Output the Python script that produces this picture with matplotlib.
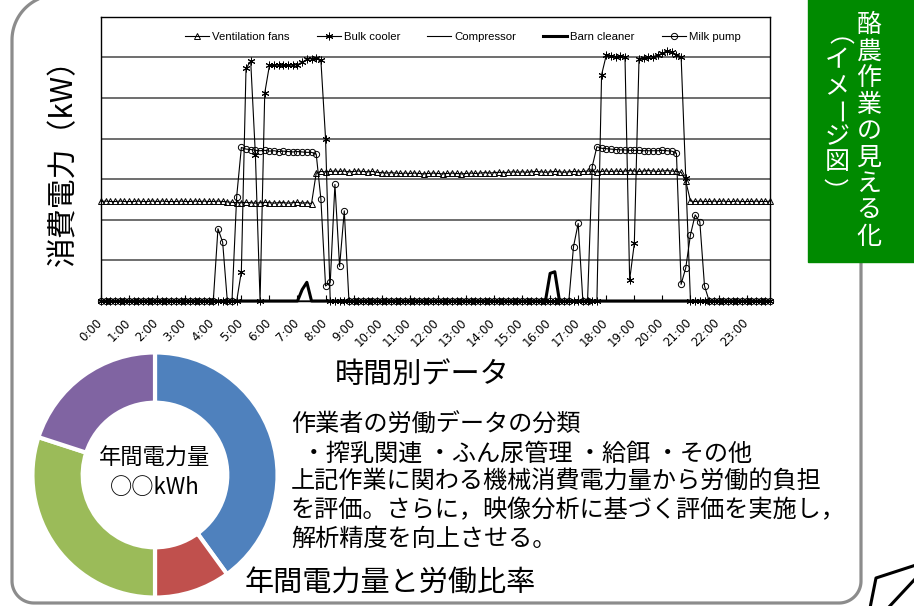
import numpy as np
import matplotlib
matplotlib.use('Agg')
import matplotlib.pyplot as plt
import matplotlib.transforms as mtransforms
from matplotlib.patches import Rectangle

plt.rcParams['font.family'] = ['Noto Sans CJK JP', 'DejaVu Sans']

# 10 minute readings (kW), one row per hour
fans = [
    2.45, 2.46, 2.45, 2.45, 2.46, 2.45,
    2.45, 2.45, 2.46, 2.45, 2.45, 2.46,
    2.45, 2.46, 2.45, 2.45, 2.45, 2.46,
    2.45, 2.45, 2.46, 2.45, 2.46, 2.45,
    2.45, 2.46, 2.45, 2.44, 2.43, 2.42,
    2.42, 2.43, 2.42, 2.41, 2.42, 2.43,
    2.42, 2.41, 2.42, 2.42, 2.41, 2.42,
    2.43, 2.41, 2.42, 2.40, 3.15, 3.19,
    3.18, 3.19, 3.20, 3.19, 3.20, 3.18,
    3.19, 3.20, 3.19, 3.18, 3.19, 3.17,
    3.16, 3.15, 3.16, 3.15, 3.14, 3.15,
    3.14, 3.15, 3.14, 3.13, 3.14, 3.15,
    3.14, 3.13, 3.14, 3.15, 3.14, 3.13,
    3.14, 3.15, 3.14, 3.15, 3.16, 3.15,
    3.16, 3.17, 3.16, 3.17, 3.18, 3.17,
    3.18, 3.17, 3.18, 3.19, 3.18, 3.17,
    3.18, 3.19, 3.18, 3.17, 3.18, 3.19,
    3.18, 3.19, 3.20, 3.19, 3.18, 3.19,
    3.20, 3.19, 3.20, 3.19, 3.20, 3.21,
    3.20, 3.19, 3.20, 3.21, 3.20, 3.19,
    3.20, 3.21, 3.20, 3.19, 3.17, 2.95,
    2.46, 2.45, 2.46, 2.45, 2.45, 2.46,
    2.45, 2.46, 2.45, 2.45, 2.46, 2.45,
    2.45, 2.45, 2.46, 2.45, 2.45, 2.46,
]

cooler = [
    0, 0, 0, 0, 0, 0,
    0, 0, 0, 0, 0, 0,
    0, 0, 0, 0, 0, 0,
    0, 0, 0, 0, 0, 0,
    0, 0, 0, 0, 0, 0,
    0.72, 5.73, 5.90, 3.60, 0, 5.12,
    5.80, 5.80, 5.81, 5.80, 5.80, 5.81,
    5.82, 5.88, 5.95, 5.97, 5.98, 5.93,
    4.00, 0, 0, 0, 0, 0,
    0, 0, 0, 0, 0, 0,
    0, 0, 0, 0, 0, 0,
    0, 0, 0, 0, 0, 0,
    0, 0, 0, 0, 0, 0,
    0, 0, 0, 0, 0, 0,
    0, 0, 0, 0, 0, 0,
    0, 0, 0, 0, 0, 0,
    0, 0, 0, 0, 0, 0,
    0, 0, 0, 0, 0, 5.57,
    6.05, 6.03, 6.02, 6.03, 6.02, 0.52,
    1.42, 5.95, 5.98, 6.00, 6.02, 6.05,
    6.10, 6.15, 6.12, 6.05, 6.02, 3.02,
    0, 0, 0, 0, 0, 0,
    0, 0, 0, 0, 0, 0,
    0, 0, 0, 0, 0, 0,
]

compressor = [0] * 144

cleaner = [
    0, 0, 0, 0, 0, 0,
    0, 0, 0, 0, 0, 0,
    0, 0, 0, 0, 0, 0,
    0, 0, 0, 0, 0, 0,
    0, 0, 0, 0, 0, 0,
    0, 0, 0, 0, 0, 0,
    0, 0, 0, 0, 0, 0,
    0, 0.28, 0.46, 0, 0, 0,
    0, 0, 0, 0, 0, 0,
    0, 0, 0, 0, 0, 0,
    0, 0, 0, 0, 0, 0,
    0, 0, 0, 0, 0, 0,
    0, 0, 0, 0, 0, 0,
    0, 0, 0, 0, 0, 0,
    0, 0, 0, 0, 0, 0,
    0, 0, 0, 0, 0, 0,
    0.68, 0.72, 0, 0, 0, 0,
    0, 0, 0, 0, 0, 0,
    0, 0, 0, 0, 0, 0,
    0, 0, 0, 0, 0, 0,
    0, 0, 0, 0, 0, 0,
    0, 0, 0, 0, 0, 0,
    0, 0, 0, 0, 0, 0,
    0, 0, 0, 0, 0, 0,
]

pump = [
    0, 0, 0, 0, 0, 0,
    0, 0, 0, 0, 0, 0,
    0, 0, 0, 0, 0, 0,
    0, 0, 0, 0, 0, 0,
    0, 1.78, 1.45, 0, 0, 2.57,
    3.78, 3.74, 3.73, 3.71, 3.70, 3.71,
    3.69, 3.70, 3.68, 3.69, 3.68, 3.67,
    3.68, 3.67, 3.66, 3.66, 3.62, 2.51,
    0.37, 0.46, 2.87, 0.85, 2.22, 0,
    0, 0, 0, 0, 0, 0,
    0, 0, 0, 0, 0, 0,
    0, 0, 0, 0, 0, 0,
    0, 0, 0, 0, 0, 0,
    0, 0, 0, 0, 0, 0,
    0, 0, 0, 0, 0, 0,
    0, 0, 0, 0, 0, 0,
    0, 0, 0, 0, 0, 1.34,
    1.91, 0, 0, 3.31, 3.80, 3.76,
    3.75, 3.74, 3.73, 3.72, 3.72, 3.71,
    3.71, 3.71, 3.70, 3.70, 3.70, 3.70,
    3.71, 3.70, 3.69, 3.64, 0.41, 0.82,
    1.63, 2.12, 1.95, 0.37, 0, 0,
    0, 0, 0, 0, 0, 0,
    0, 0, 0, 0, 0, 0,
]

hour_labels = ['0:00', '1:00', '2:00', '3:00', '4:00', '5:00', '6:00', '7:00',
               '8:00', '9:00', '10:00', '11:00', '12:00', '13:00', '14:00', '15:00',
               '16:00', '17:00', '18:00', '19:00', '20:00', '21:00', '22:00', '23:00']

# donut: share of annual power by work type
shares = [40, 10, 30, 20]
share_colors = ['#4F81BD', '#C0504D', '#9BBB59', '#8064A2']

body_lines = [
    '作業者の労働データの分類',
    '  ・搾乳関連 ・ふん尿管理 ・給餌 ・その他',
    '上記作業に関わる機械消費電力量から労働的負担',
    'を評価。さらに，映像分析に基づく評価を実施し，',
    '解析精度を向上させる。',
]
side_title = '酪農作業の見える化'
side_note = '（イメージ図）'

fig = plt.figure(figsize=(9.14, 6.06), dpi=100)

# background layer in pixel coordinates
bg = fig.add_axes([0, 0, 1, 1])
bg.set_xlim(0, 914)
bg.set_ylim(606, 0)
bg.axis('off')

# rounded frame (bigger radius top left)
def arc(cx, cy, r, a0, a1):
    a = np.radians(np.linspace(a0, a1, 30))
    return cx + r * np.cos(a), cy - r * np.sin(a)

L, R, T, B = 12, 861, -5, 603
r1, r2 = 45, 22
xs, ys = [], []
for cx, cy, r, a0, a1 in [(L + r1, T + r1, r1, 90, 180), (L + r2, B - r2, r2, 180, 270),
                          (R - r2, B - r2, r2, 270, 360), (R - r2, T + r2, r2, 0, 90)]:
    ax_, ay_ = arc(cx, cy, r, a0, a1)
    xs += list(ax_)
    ys += list(ay_)
xs.append(xs[0])
ys.append(ys[0])
bg.plot(xs, ys, color='#8C8C8C', lw=2.3, zorder=1, solid_capstyle='round')

bg.add_patch(Rectangle((808, -1), 107, 263, color='#008A00', zorder=3))
rot_chars = '（）ー'


def vchar(x, y, ch):
    if ch in rot_chars:
        bg.text(x, y, ch, color='white', fontsize=18, ha='center', va='center',
                rotation=-90, rotation_mode='anchor', zorder=4)
    else:
        bg.text(x, y, ch, color='white', fontsize=18, ha='center', va='center', zorder=4)


for k, ch in enumerate(side_title):
    vchar(869, 25 + 26.5 * k, ch)
# rotated brackets are drawn off their anchor, so their anchors are nudged
note_pos = [(822, 48), (837, 60), (837, 86), (837, 112), (837, 137), (837, 162), (832, 190)]
for ch, (xc, yc) in zip(side_note, note_pos):
    vchar(xc, yc, ch)

bg.plot([870, 876, 916], [608, 578, 565], color='black', lw=2.2, zorder=2)
bg.plot([888, 916], [608, 578], color='black', lw=2.2, zorder=2)

for k, line in enumerate(body_lines):
    bg.text(291, 425 + 28.4 * k, line, fontsize=17.4, ha='left', va='center')
bg.text(245, 583, '年間電力量と労働比率', fontsize=21, ha='left', va='center')

# line chart
ax = fig.add_axes([101 / 914, 1 - 301 / 606, 669 / 914, 284.3 / 606])
t = np.arange(len(fans)) / 6.0
common = dict(color='black', lw=0.8, clip_on=False)
ax.plot(t, fans, marker='^', ms=4.6, mfc='none', mew=0.7, label='Ventilation fans', **common)
ax.plot(t, cooler, marker=(6, 2, 0), ms=5.5, mew=0.7, label='Bulk cooler', **common)
ax.plot(t, compressor, label='Compressor', **common)
ax.plot(t, cleaner, color='black', lw=2.2, label='Barn cleaner', clip_on=False)
ax.plot(t, pump, marker='o', ms=4.5, mfc='none', mew=0.7, label='Milk pump', **common)

ax.set_xlim(0, t[-1])
ax.set_ylim(0, 7)
ax.set_yticks(range(8))
ax.tick_params(axis='y', length=0, labelleft=False)
ax.grid(axis='y', color='#555555', lw=1.2)
ax.set_axisbelow(True)
for s in ax.spines.values():
    s.set_color('black')
    s.set_linewidth(1.0)

ax.set_xticks(range(24))
ax.set_xticklabels(hour_labels, rotation=45, ha='right', fontsize=8.5, family='DejaVu Sans')
ax.tick_params(axis='x', direction='in', length=4, pad=11)
shift = mtransforms.ScaledTranslation(4 / 100, 0, fig.dpi_scale_trans)
for lab in ax.get_xticklabels():
    lab.set_transform(lab.get_transform() + shift)

ax.set_ylabel('消費電力（kW）', fontsize=21.5, va='center')
ax.yaxis.set_label_coords(-0.0553, 0.513)
ax.set_xlabel('時間別データ', fontsize=21, va='center')
ax.xaxis.set_label_coords(0.48, -0.26)

ax.legend(loc='center', bbox_to_anchor=(0.541, 0.928), ncol=5, frameon=False,
          prop={'family': 'Liberation Sans', 'size': 8.2}, handlelength=2.1,
          handletextpad=0.25, columnspacing=2.4, numpoints=1)

# donut
ax2 = fig.add_axes([30 / 914, 1 - 600 / 606, 250 / 914, 250 / 606])
ax2.pie(shares, colors=share_colors, startangle=90, counterclock=False,
        wedgeprops=dict(width=0.41, edgecolor='white', linewidth=3))
ax2.set_xlim(-1.02, 1.02)
ax2.set_ylim(-1.02, 1.02)
ax2.set_aspect('equal')
ax2.text(0, 0.135, '年間電力量', fontsize=16, ha='center', va='center')
ax2.text(0, -0.105, '○○kWh', fontsize=16, ha='center', va='center')

fig.savefig('out.png', dpi=100)
